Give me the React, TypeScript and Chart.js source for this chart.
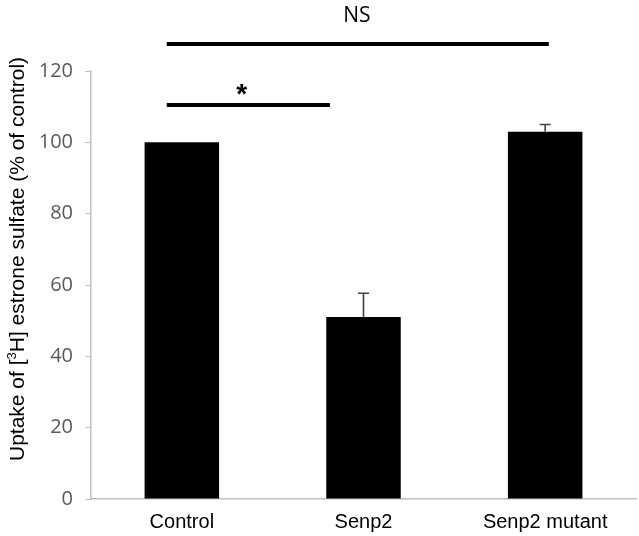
import React, { useEffect, useRef } from "react";
import { Chart, registerables } from "chart.js";

Chart.register(...registerables);

const categories = ["Control", "Senp2", "Senp2 mutant"];
const uptakeValues = [100, 51, 103];
const uptakeErrors = [0, 6.7, 2];
const yTicks = [0, 20, 40, 60, 80, 100, 120];
const bracketFrom = [-0.083, -0.083];
const bracketTo = [2.02, 0.815];
const bracketLevel = [127.6, 110.5];
const bracketLabels = ["NS", "*"];
const bracketLabelIndex = [0.964, 0.33];
const bracketLabelLevel = [135.5, 114.5];

const errorBarPlugin = {
  id: "errorBars",
  afterDatasetsDraw(chart: any) {
    const ctx = chart.ctx;
    const x = chart.scales.x;
    const y = chart.scales.y;
    ctx.save();
    ctx.strokeStyle = "#404040";
    ctx.lineWidth = 1.6;
    uptakeValues.forEach((v, i) => {
      const e = uptakeErrors[i];
      if (!e) return;
      const px = x.getPixelForValue(i);
      const top = y.getPixelForValue(v + e);
      const base = y.getPixelForValue(v);
      ctx.beginPath();
      ctx.moveTo(px, base);
      ctx.lineTo(px, top);
      ctx.moveTo(px - 5.5, top);
      ctx.lineTo(px + 5.5, top);
      ctx.stroke();
    });
    ctx.restore();
  },
};

const annotationPlugin = {
  id: "brackets",
  afterDraw(chart: any) {
    const ctx = chart.ctx;
    const x = chart.scales.x;
    const y = chart.scales.y;
    ctx.save();
    ctx.strokeStyle = "#000";
    ctx.lineWidth = 4;
    ctx.fillStyle = "#000";
    ctx.textAlign = "center";
    ctx.textBaseline = "middle";
    bracketFrom.forEach((f, i) => {
      const py = y.getPixelForValue(bracketLevel[i]);
      ctx.beginPath();
      ctx.moveTo(x.getPixelForValue(f), py);
      ctx.lineTo(x.getPixelForValue(bracketTo[i]), py);
      ctx.stroke();
      const lbl = bracketLabels[i];
      ctx.font = lbl === "*" ? "bold 28px 'Liberation Sans'" : "21px 'Open Sans'";
      ctx.fillText(
        lbl,
        x.getPixelForValue(bracketLabelIndex[i]),
        y.getPixelForValue(bracketLabelLevel[i]) + (lbl === "*" ? 5 : 0)
      );
    });

    // y axis title with superscript
    const parts: [string, boolean][] = [
      ["Uptake of [", false],
      ["3", true],
      ["H] estrone sulfate (% of control)", false],
    ];
    const mainFont = "21px 'Liberation Sans'";
    const supFont = "13px 'Liberation Sans'";
    let total = 0;
    parts.forEach(([t, s]) => {
      ctx.font = s ? supFont : mainFont;
      total += ctx.measureText(t).width;
    });
    ctx.translate(18, 259);
    ctx.rotate(-Math.PI / 2);
    ctx.textAlign = "left";
    ctx.textBaseline = "middle";
    ctx.fillStyle = "#000";
    let cx = -total / 2;
    parts.forEach(([t, s]) => {
      ctx.font = s ? supFont : mainFont;
      ctx.fillText(t, cx, s ? -6 : 0);
      cx += ctx.measureText(t).width;
    });
    ctx.restore();
  },
};

export default function App() {
  const ref = useRef<HTMLCanvasElement | null>(null);
  useEffect(() => {
    document.body.style.margin = "0";
    const chart = new Chart(ref.current as HTMLCanvasElement, {
      type: "bar",
      data: {
        labels: categories,
        datasets: [
          {
            data: uptakeValues,
            backgroundColor: "#000",
            borderColor: "#000",
            barPercentage: 0.41,
            categoryPercentage: 1,
          },
        ],
      },
      plugins: [errorBarPlugin, annotationPlugin],
      options: {
        animation: false,
        responsive: false,
        maintainAspectRatio: false,
        layout: { padding: { top: 71, right: 3, left: 0, bottom: 0 } },
        plugins: { legend: { display: false }, tooltip: { enabled: false } },
        scales: {
          x: {
            grid: { display: false, drawTicks: false },
            border: { display: true, color: "#bfbfbf", width: 1.5 },
            ticks: {
              color: "#000",
              font: { family: "'Liberation Sans'", size: 20 },
              padding: 11,
            },
            afterFit(scale: any) {
              scale.height = 37;
            },
          },
          y: {
            min: 0,
            max: 120,
            afterBuildTicks(scale: any) {
              scale.ticks = yTicks.map((v) => ({ value: v }));
            },
            grid: {
              display: true,
              drawOnChartArea: false,
              drawTicks: true,
              tickLength: 6,
              color: "#bfbfbf",
            },
            border: { display: true, color: "#bfbfbf", width: 1.5 },
            ticks: {
              color: "#595959",
              font: { family: "'Open Sans'", size: 20 },
              padding: 12,
            },
            afterFit(scale: any) {
              scale.width = 91;
            },
          },
        },
      },
    });
    return () => chart.destroy();
  }, []);
  return (
    <div style={{ width: 639, height: 536, position: "relative" }}>
      <canvas ref={ref} width={639} height={536} style={{ display: "block" }} />
    </div>
  );
}
